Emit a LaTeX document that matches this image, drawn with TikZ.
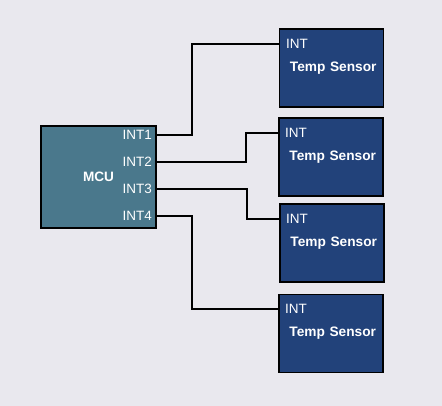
\documentclass[tikz,border=0pt]{standalone}
\usepackage{fontspec}
\setmainfont{Liberation Sans}
\usetikzlibrary{positioning}
\definecolor{mcufill}{HTML}{4A788C}
\definecolor{sensfill}{HTML}{22427A}
\definecolor{bgfill}{HTML}{E9E8EE}

\begin{document}
\begin{tikzpicture}[x=1pt, y=-1pt,
  mcubox/.style={draw=black, line width=1.5pt, fill=mcufill, minimum width=115pt, minimum height=102pt, text=white, font=\bfseries\fontsize{13.6}{15}\selectfont},
  sensorbox/.style={draw=black, line width=1.5pt, fill=sensfill, minimum width=104pt, minimum height=78pt, text=white, font=\bfseries\fontsize{13.7}{15}\selectfont},
  pin/.style={text=white, inner sep=0pt, font=\fontsize{13.5}{15}\selectfont},
  wire/.style={draw=black, line width=1.5pt}]
\fill[bgfill] (0,0) rectangle (442,406);
\useasboundingbox (0,0) rectangle (442,406);
\node[mcubox] (mcu) at (98.5,177) {MCU};
\node[pin, anchor=east] (p1) at (152,135) {INT1};
\node[pin, anchor=east] (p2) at (152,162) {INT2};
\node[pin, anchor=east] (p3) at (152,189) {INT3};
\node[pin, anchor=east] (p4) at (152,216) {INT4};
\node[sensorbox, text width=90pt, align=right] (s1) at (331.5,68) {Temp Sensor};
\node[sensorbox, text width=90pt, align=right] (s2) at (331,157) {Temp Sensor};
\node[sensorbox, text width=90pt, align=right] (s3) at (332,243) {Temp Sensor};
\node[sensorbox, text width=90pt, align=right] (s4) at (331,333.5) {Temp Sensor};
\node[pin, anchor=west] (t1) at (286,44) {INT};
\node[pin, anchor=west] (t2) at (285,133) {INT};
\node[pin, anchor=west] (t3) at (286,219) {INT};
\node[pin, anchor=west] (t4) at (285,309) {INT};
\draw[wire] (mcu.east |- p1) -- ++(35,0) |- (s1.west |- t1);
\draw[wire] (mcu.east |- p2) -- ++(89,0) |- (s2.west |- t2);
\draw[wire] (mcu.east |- p3) -- ++(90,0) |- (s3.west |- t3);
\draw[wire] (mcu.east |- p4) -- ++(35,0) |- (s4.west |- t4);
\end{tikzpicture}
\end{document}
